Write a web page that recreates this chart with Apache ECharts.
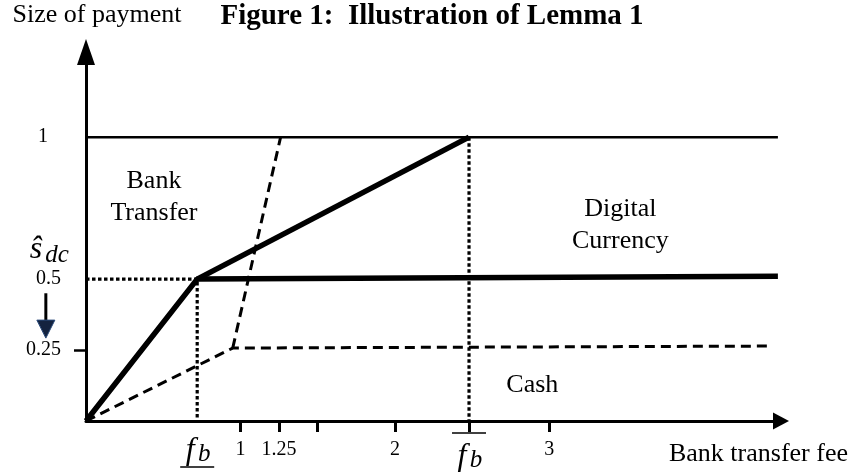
<!DOCTYPE html>
<html>
<head>
<meta charset="utf-8">
<script src="https://cdn.jsdelivr.net/npm/echarts@6/dist/echarts.min.js"></script>
<style>
  html, body { margin: 0; padding: 0; background: #fff; }
  #chart { width: 853px; height: 475px; }
</style>
</head>
<body>
<div id="chart"></div>
<script>
  const FONT = '"Liberation Serif", "DejaVu Serif", serif';

  // axis ticks and labels
  const xTickValues = [1, 1.25, 1.5, 2, 2.48, 3];
  const xLabelValues = [1, 1.25, 2, 3];
  const yTickValues = [0.25];
  const yLabelValues = [0.25, 0.5, 1];

  // boundary lines (fee, size of payment)
  const topLine = [[0, 1], [4.48, 1]];
  const dcBoundary = [[0, 0], [0.72, 0.5], [4.48, 0.51]];
  const upperBoundary = [[0.72, 0.5], [2.48, 1]];
  const cashBoundary = [[0, 0], [0.95, 0.257], [4.43, 0.264]];
  const cashSteep = [[0.95, 0.257], [1.26, 1]];
  const lowGuide = [[0, 0.5], [0.72, 0.5], [0.72, 0]];
  const highGuide = [[2.48, 1], [2.48, 0]];

  // region names
  const regionNames = ['Bank\nTransfer', 'Digital\nCurrency', 'Cash'];
  const regionX = [0.44, 3.46, 2.89];
  const regionY = [0.79, 0.69, 0.127];

  // fee thresholds under the axis: value, bar position
  const feeMarks = [[0.72, 'under'], [2.48, 'over']];
  // s_dc falls from 0.5 towards 0.25
  const sdcLabel = [[-0.24, 0.6]];
  const dropArrow = [[-0.26, 0.45, 0.292]];

  const chart = echarts.init(document.getElementById('chart'));

  function line(data, width, type) {
    return {
      type: 'line',
      data: data,
      symbol: 'none',
      silent: true,
      lineStyle: { color: '#000', width: width, type: type || 'solid', cap: 'butt' },
      z: 3
    };
  }

  function renderRegion(params, api) {
    const p = api.coord([api.value(0), api.value(1)]);
    return {
      type: 'text',
      style: {
        text: regionNames[params.dataIndex], x: p[0], y: p[1],
        font: '26px ' + FONT, lineHeight: 32, fill: '#000', align: 'center', verticalAlign: 'middle'
      }
    };
  }

  function renderFee(params, api) {
    const p = api.coord([api.value(0), 0]);
    const bar = feeMarks[params.dataIndex][1];
    const ty = bar === 'under' ? p[1] + 30 : p[1] + 36;
    const ly = bar === 'under' ? p[1] + 46 : p[1] + 12;
    return {
      type: 'group',
      children: [
        { type: 'text', style: { text: 'f', x: p[0] - 7, y: ty, font: 'italic 32px ' + FONT, fill: '#000', align: 'center', verticalAlign: 'middle' } },
        { type: 'text', style: { text: 'b', x: p[0] + 7, y: ty + 3, font: 'italic 25px ' + FONT, fill: '#000', align: 'center', verticalAlign: 'middle' } },
        { type: 'line', shape: { x1: p[0] - 17, y1: ly, x2: p[0] + 17, y2: ly }, style: { stroke: '#000', lineWidth: 1.5 } }
      ]
    };
  }

  function renderSdc(params, api) {
    const p = api.coord([api.value(0), api.value(1)]);
    return {
      type: 'group',
      children: [
        { type: 'text', style: { text: 'ŝ', x: p[0] - 13, y: p[1] - 1, font: 'italic 32px ' + FONT, fill: '#000', align: 'center', verticalAlign: 'middle' } },
        { type: 'text', style: { text: 'dc', x: p[0] + 8, y: p[1] + 5, font: 'italic 25px ' + FONT, fill: '#000', align: 'center', verticalAlign: 'middle' } }
      ]
    };
  }

  function renderDrop(params, api) {
    const a = api.coord([api.value(0), api.value(1)]);
    const b = api.coord([api.value(0), api.value(2)]);
    const head = 18;
    return {
      type: 'group',
      children: [
        { type: 'line', shape: { x1: a[0], y1: a[1], x2: b[0], y2: b[1] - head + 1 }, style: { stroke: '#000', lineWidth: 3 } },
        { type: 'polygon', shape: { points: [[b[0] - 9, b[1] - head], [b[0] + 9, b[1] - head], [b[0], b[1]]] }, style: { fill: '#14233f', stroke: '#2a4a7a', lineWidth: 1 } }
      ]
    };
  }

  chart.setOption({
    animation: false,
    backgroundColor: '#fff',
    title: {
      text: 'Figure 1:  Illustration of Lemma 1',
      left: 432,
      textAlign: 'center',
      top: 2,
      padding: 0,
      textStyle: { fontFamily: FONT, fontSize: 29, fontWeight: 'bold', color: '#000' }
    },
    grid: { left: 86, right: 72, top: 52, bottom: 54, containLabel: false, outerBoundsMode: 'none' },
    xAxis: {
      type: 'value',
      min: 0,
      max: 4.5,
      name: 'Bank transfer fee',
      nameLocation: 'end',
      nameGap: 67,
      nameTextStyle: { fontFamily: FONT, fontSize: 26, color: '#000', align: 'right', verticalAlign: 'top', padding: [20, 0, 0, 0] },
      axisLine: {
        show: true,
        symbol: ['none', 'triangle'],
        symbolSize: [17, 16],
        lineStyle: { color: '#000', width: 3 }
      },
      axisTick: { show: true, customValues: xTickValues, length: 11, lineStyle: { color: '#000', width: 3 } },
      axisLabel: { customValues: xLabelValues, margin: 19, fontFamily: FONT, fontSize: 20, color: '#000' },
      splitLine: { show: false }
    },
    yAxis: {
      type: 'value',
      min: 0,
      max: 1.3,
      name: 'Size of payment',
      nameLocation: 'end',
      nameGap: 24,
      nameTextStyle: { fontFamily: FONT, fontSize: 26, color: '#000', align: 'center', padding: [0, 0, 0, 22] },
      axisLine: {
        show: true,
        symbol: ['none', 'triangle'],
        symbolSize: [18, 26],
        lineStyle: { color: '#000', width: 3 }
      },
      axisTick: { show: true, customValues: yTickValues, length: 12, lineStyle: { color: '#000', width: 2.5 } },
      axisLabel: {
        customValues: yLabelValues,
        margin: 25,
        fontFamily: FONT,
        fontSize: 20,
        color: '#000',
        formatter: function (v) { return v === 1 ? '{one|1}' : String(v); },
        rich: { one: { padding: [0, 13, 0, 0], fontFamily: FONT, fontSize: 20, color: '#000' } }
      },
      splitLine: { show: false }
    },
    series: [
      line(lowGuide, 3.2, [3.5, 2.5]),
      line(highGuide, 3.2, [3.5, 2.5]),
      line(cashBoundary, 3, [10, 6]),
      line(cashSteep, 3, [10, 6]),
      line(topLine, 2.5),
      line(dcBoundary, 5.5),
      line(upperBoundary, 5.5),
      {
        type: 'custom', silent: true, clip: false,
        data: regionNames.map(function (n, i) { return [regionX[i], regionY[i]]; }),
        renderItem: renderRegion, z: 5
      },
      { type: 'custom', silent: true, clip: false, data: feeMarks.map(function (d) { return [d[0], 0]; }), renderItem: renderFee, z: 5 },
      { type: 'custom', silent: true, clip: false, data: sdcLabel, renderItem: renderSdc, z: 5 },
      { type: 'custom', silent: true, clip: false, data: dropArrow, encode: { x: 0, y: [1, 2] }, renderItem: renderDrop, z: 5 }
    ]
  });
</script>
</body>
</html>
